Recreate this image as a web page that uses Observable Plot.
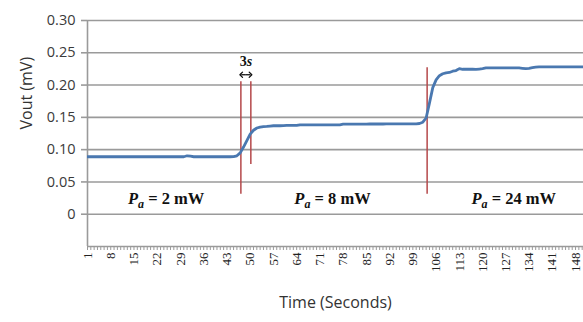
<!DOCTYPE html>
<html>
<head>
<meta charset="utf-8">
<script src="https://cdn.jsdelivr.net/npm/d3@7"></script>
<script src="https://cdn.jsdelivr.net/npm/@observablehq/plot@0.6"></script>
<style>
  html, body { margin: 0; padding: 0; background: #fff; }
  #chart svg { display: block; }
</style>
</head>
<body>
<div id="chart"></div>
<script>
// Time categories (seconds)
const times = d3.range(1, 152);
// Vout (mV), one per second
const vout = [
  0.0890, 0.0890, 0.0890, 0.0890, 0.0890, 0.0890, 0.0890, 0.0890, 0.0890, 0.0890,
  0.0890, 0.0890, 0.0890, 0.0890, 0.0890, 0.0890, 0.0890, 0.0890, 0.0890, 0.0890,
  0.0890, 0.0890, 0.0890, 0.0890, 0.0890, 0.0890, 0.0890, 0.0890, 0.0890, 0.0890,
  0.0905, 0.0898, 0.0890, 0.0890, 0.0890, 0.0890, 0.0890, 0.0890, 0.0890, 0.0890,
  0.0890, 0.0890, 0.0890, 0.0890, 0.0892, 0.0905, 0.0950, 0.1040, 0.1140, 0.1240,
  0.1300, 0.1335, 0.1350, 0.1358, 0.1360, 0.1365, 0.1370, 0.1370, 0.1370, 0.1372,
  0.1375, 0.1375, 0.1375, 0.1375, 0.1385, 0.1385, 0.1385, 0.1385, 0.1385, 0.1385,
  0.1385, 0.1385, 0.1385, 0.1385, 0.1385, 0.1385, 0.1385, 0.1395, 0.1395, 0.1395,
  0.1395, 0.1395, 0.1395, 0.1395, 0.1395, 0.1397, 0.1397, 0.1397, 0.1397, 0.1397,
  0.1400, 0.1400, 0.1400, 0.1400, 0.1400, 0.1400, 0.1400, 0.1400, 0.1400, 0.1400,
  0.1405, 0.1425, 0.1490, 0.1720, 0.1960, 0.2080, 0.2145, 0.2175, 0.2190, 0.2195,
  0.2215, 0.2225, 0.2255, 0.2245, 0.2245, 0.2248, 0.2245, 0.2242, 0.2248, 0.2255,
  0.2265, 0.2265, 0.2265, 0.2265, 0.2265, 0.2265, 0.2265, 0.2265, 0.2265, 0.2265,
  0.2265, 0.2260, 0.2255, 0.2260, 0.2270, 0.2278, 0.2283, 0.2283, 0.2283, 0.2283,
  0.2283, 0.2283, 0.2283, 0.2283, 0.2283, 0.2283, 0.2283, 0.2283, 0.2283, 0.2283,
  0.2283
];
const yTicks = [0, 0.05, 0.10, 0.15, 0.20, 0.25, 0.30];
const xLabelTicks = d3.range(1, 150, 7);
// Power-change markers (time, top value, bottom value)
const markerTimes = [47.2, 50.2, 103.3];
const markerTop = [0.205, 0.205, 0.227];
const markerBottom = [0.031, 0.077, 0.031];
// Power annotations
const powerLabels = ["2 mW", "8 mW", "24 mW"];
const powerLabelTimes = [24.7, 74.8, 129.4];
const powerLabelY = 0.0245;
// 3 s interval arrow (centre, left end, right end)
const arrowMid = 48.7;
const arrowEnds = [47.3, 50.1];

const data = times.map((t, i) => ({t, v: vout[i]}));
const markers = markerTimes.map((t, i) => ({t, y1: markerBottom[i], y2: markerTop[i]}));
const pa = powerLabels.map((s, i) => ({t: powerLabelTimes[i], s}));
const arrows = arrowEnds.map(e => ({x1: arrowMid, x2: e}));

const plot = Plot.plot({
  width: 583,
  height: 322,
  marginLeft: 87,
  marginRight: 0,
  marginTop: 20,
  marginBottom: 76,
  style: {background: "#fff", fontFamily: "Open Sans, sans-serif"},
  x: {domain: [1, 150.4]},
  y: {domain: [-0.05, 0.30]},
  marks: [
    Plot.gridY(yTicks, {stroke: "#9a9a9a", strokeOpacity: 1, strokeWidth: 1.6}),
    Plot.ruleY([-0.05], {stroke: "#9a9a9a", strokeWidth: 1.6}),
    Plot.ruleX([1], {y1: -0.05, y2: 0.30, stroke: "#9a9a9a", strokeWidth: 1.6}),
    Plot.axisY(yTicks, {
      tickSize: 6, tickPadding: 6, stroke: "#9a9a9a", strokeWidth: 1.6,
      tickFormat: d => d === 0 ? "0" : d.toFixed(2),
      fontSize: 14.5, fontFamily: "Open Sans, sans-serif", fill: "#3a3a3a", label: null
    }),
    Plot.axisX(d3.range(1, 151), {tickSize: 4, stroke: "#9a9a9a", text: null, label: null}),
    Plot.axisX(xLabelTicks, {
      tickSize: 0, tickPadding: 6, tickRotate: -90, fontSize: 13,
      fontFamily: "Liberation Serif, serif", fill: "#222", label: null
    }),
    Plot.ruleX(markers, {x: "t", y1: "y1", y2: "y2", stroke: "#b5484a", strokeWidth: 1.5}),
    Plot.line(data, {x: "t", y: "v", stroke: "#4a78b0", strokeWidth: 2.8, clip: true}),
    Plot.link(arrows, {
      x1: "x1", x2: "x2", y1: 0.216, y2: 0.216, stroke: "#111", strokeWidth: 1.3,
      markerEnd: "arrow"
    }),
    Plot.text(["3s"], {
      x: arrowMid, y: 0.236, text: d => d, fontSize: 14, fontWeight: "bold",
      fontFamily: "Liberation Serif, serif", fill: "#111", className: "threes"
    }),
    Plot.text(pa, {
      x: "t", y: powerLabelY, text: "s", fontSize: 16.5, fontWeight: "bold",
      fontFamily: "Liberation Serif, serif", fill: "#111", className: "pa"
    }),
    Plot.text(["Time (Seconds)"], {
      frameAnchor: "bottom", dy: 61, text: d => d, fontSize: 16, fill: "#333",
      fontFamily: "Open Sans, sans-serif"
    }),
    Plot.text(["Vout (mV)"], {
      frameAnchor: "left", dx: -61, dy: -4, rotate: -90, text: d => d, fontSize: 16, fill: "#333",
      fontFamily: "Open Sans, sans-serif"
    })
  ]
});

// Rich formatting of the power labels: italic P with italic subscript a
d3.select(plot).selectAll(".pa text").each(function() {
  const s = this.textContent;
  const t = d3.select(this);
  t.text(null);
  t.append("tspan").attr("font-style", "italic").text("P");
  t.append("tspan").attr("font-style", "italic").attr("font-size", 12).attr("dy", 4).text("a");
  t.append("tspan").attr("dy", -4).text(" = " + s);
});
d3.select(plot).selectAll(".threes text").each(function() {
  const t = d3.select(this);
  t.text(null);
  t.append("tspan").text("3");
  t.append("tspan").attr("font-style", "italic").text("s");
});

document.getElementById("chart").appendChild(plot);
</script>
</body>
</html>
